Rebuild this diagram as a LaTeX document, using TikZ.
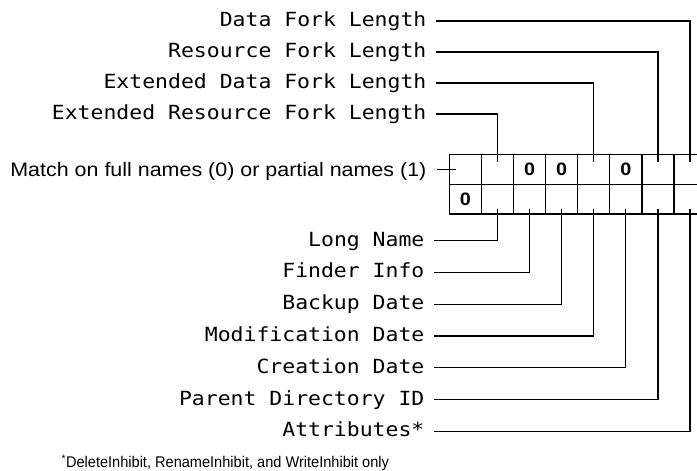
\documentclass[tikz,border=0pt]{standalone}
\usepackage{fontspec}
\setmainfont{Liberation Sans}[FakeStretch=1.1]
\newfontfamily\fieldfont{DejaVu Sans Mono}[FakeStretch=1.1]
\newfontfamily\notefont{Liberation Sans}[FakeStretch=0.94]

\begin{document}
\begin{tikzpicture}[x=1pt,y=-1pt,line width=1.2pt,
  cell/.style={draw,minimum width=32.1pt,minimum height=29.85pt,inner sep=0pt,
    font=\fontsize{18}{20}\selectfont\bfseries},
  field/.style={anchor=east,inner xsep=9pt,inner ysep=0pt,text height=11pt,
    text depth=0pt,font=\fieldfont\fontsize{19.5}{22}\selectfont}]
\useasboundingbox (0,0) rectangle (697,471);

% the two rows of bits
\foreach \i/\u/\l in {1/{}/0,2/{}/{},3/0/{},4/0/{},5/{}/{},6/0/{},7/{}/{},8/{}/{}}{
  \node[cell] (t\i) at ({465.35+32.1*(\i-1)},169.3) {\u};
  \node[cell] (b\i) at ({465.35+32.1*(\i-1)},199.15) {\l};
}

% fields above
\node[field] (dfl) at (436,21) {Data Fork Length};
\node[field] (rfl) at (436,52) {Resource Fork Length};
\node[field] (edfl) at (436,83) {Extended Data Fork Length};
\node[field] (erfl) at (436,114) {Extended Resource Fork Length};

\node[anchor=east,inner xsep=10pt,inner ysep=0pt,text height=14pt,text depth=0pt,
  font=\fontsize{19.5}{22}\selectfont] (match) at (437,169.3)
  {Match on full names (0) or partial names (1)};

% fields below
\node[field] (ln) at (434,240.5) {Long Name};
\node[field] (fi) at (434,272.3) {Finder Info};
\node[field] (bd) at (434,304.1) {Backup Date};
\node[field] (md) at (434,335.9) {Modification Date};
\node[field] (cd) at (434,367.7) {Creation Date};
\node[field] (pd) at (434,399.5) {Parent Directory ID};
\node[field] (attr) at (434,431.3) {Attributes*};

\node[anchor=base west,inner sep=0pt,font=\notefont\fontsize{15.5}{17}\selectfont] (note)
  at (61,467.5) {\textsuperscript{*}DeleteInhibit, RenameInhibit, and WriteInhibit only};

\draw (dfl.east) -| ([yshift=-8pt]t8.north);
\draw (rfl.east) -| ([yshift=-8pt]t7.north);
\draw (edfl.east) -| ([yshift=-8pt]t5.north);
\draw (erfl.east) -| ([yshift=-8pt]t2.north);
\draw (match.east) -- ([xshift=7.4pt]t1.west);

\draw (ln.east) -| ([yshift=6pt]b2.south);
\draw (fi.east) -| ([yshift=6pt]b3.south);
\draw (bd.east) -| ([yshift=6pt]b4.south);
\draw (md.east) -| ([yshift=6pt]b5.south);
\draw (cd.east) -| ([yshift=6pt]b6.south);
\draw (pd.east) -| ([yshift=6pt]b7.south);
\draw (attr.east) -| ([yshift=6pt]b8.south);
\end{tikzpicture}
\end{document}
